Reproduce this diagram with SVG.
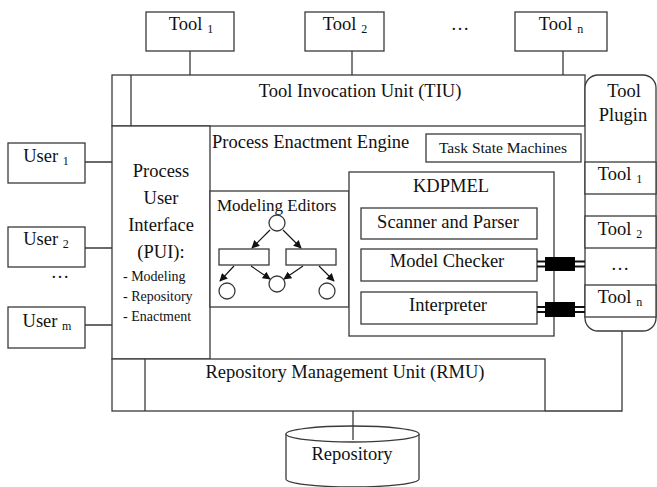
<svg xmlns="http://www.w3.org/2000/svg" width="657" height="487" viewBox="0 0 657 487">
<style>
.box{fill:#fff;stroke:#3a3a3a;stroke-width:1.3}
.ln{fill:none;stroke:#3a3a3a;stroke-width:1.3}
.arr{fill:none;stroke:#111;stroke-width:1.1}
text{font-family:"Liberation Serif","Times New Roman",serif;fill:#111;font-size:18.5px}
.c{text-anchor:middle}
.sub{font-size:12px}
.s14{font-size:14px}
.s15{font-size:15.5px}
.s17{font-size:17px}
</style>
<defs>
<marker id="ah" viewBox="0 0 10 10" refX="9" refY="5" markerWidth="8" markerHeight="8" markerUnits="userSpaceOnUse" orient="auto">
<path d="M0,0 L10,5 L0,10 Z" fill="#111"/>
</marker>
</defs>
<rect width="657" height="487" fill="#fff"/>

<g id="connectors">
<path class="ln" d="M190,51 V75 M352,51 V75 M563,51 V75"/>
<path class="ln" d="M85,162 H112 M85,248 H112 M85,325 H112"/>
<path class="ln" d="M353,411 V440"/>
<path class="ln" d="M622,331 V411 H545"/>
</g>

<g id="tool1"><rect class="box" x="146" y="12" width="88" height="39"/><text class="c" x="191" y="30">Tool <tspan class="sub" dy="3">1</tspan></text></g>
<g id="tool2"><rect class="box" x="305" y="12" width="79" height="39"/><text class="c" x="345" y="30">Tool <tspan class="sub" dy="3">2</tspan></text></g>
<g id="tooldots"><text class="c" x="460" y="30">…</text></g>
<g id="tooln"><rect class="box" x="515" y="12" width="92" height="39"/><text class="c" x="561" y="30">Tool <tspan class="sub" dy="3">n</tspan></text></g>

<g id="user1"><rect class="box" x="8" y="143" width="77" height="40"/><text class="c" x="46" y="162">User <tspan class="sub" dy="3">1</tspan></text></g>
<g id="user2"><rect class="box" x="8" y="227" width="77" height="40"/><text class="c" x="46" y="245">User <tspan class="sub" dy="3">2</tspan></text></g>
<g id="userdots"><text class="c" x="60" y="278">…</text></g>
<g id="userm"><rect class="box" x="8" y="307" width="77" height="41"/><text class="c" x="47" y="327">User <tspan class="sub" dy="3">m</tspan></text></g>

<g id="tiu">
<rect class="box" x="112" y="75" width="473" height="51"/>
<path class="ln" d="M131,75 V126"/>
<text class="c" x="360" y="97">Tool Invocation Unit (TIU)</text>
</g>

<g id="pui">
<rect class="box" x="112" y="126" width="98" height="233"/>
<text class="c" x="161" y="177">Process</text>
<text class="c" x="161" y="204">User</text>
<text class="c" x="161" y="231">Interface</text>
<text class="c" x="161" y="258">(PUI):</text>
<text class="s14" x="123" y="281">- Modeling</text>
<text class="s14" x="123" y="301">- Repository</text>
<text class="s14" x="123" y="321">- Enactment</text>
</g>

<g id="pee">
<text x="212" y="148">Process Enactment Engine</text>
</g>

<g id="tsm"><rect class="box" x="426" y="134" width="155" height="28"/><text class="c s15" x="503" y="153">Task State Machines</text></g>

<g id="modeling">
<rect class="box" x="210" y="191" width="139" height="116"/>
<text class="s17" x="217" y="211">Modeling Editors</text>
<circle class="box" cx="277" cy="223" r="8"/>
<rect class="box" x="219" y="249" width="50" height="16"/>
<rect class="box" x="286" y="249" width="50" height="16"/>
<circle class="box" cx="227" cy="291" r="8"/>
<circle class="box" cx="277" cy="284" r="8"/>
<circle class="box" cx="327" cy="291" r="8"/>
<path class="arr" marker-end="url(#ah)" d="M270,230 L252,248"/>
<path class="arr" marker-end="url(#ah)" d="M283,230 L301,248"/>
<path class="arr" marker-end="url(#ah)" d="M234,266 L220,281"/>
<path class="arr" marker-end="url(#ah)" d="M251,266 L270,279"/>
<path class="arr" marker-end="url(#ah)" d="M303,266 L284,279"/>
<path class="arr" marker-end="url(#ah)" d="M319,266 L334,281"/>
</g>

<g id="kdpmel">
<rect class="box" x="349" y="172" width="205" height="164"/>
<text class="c" x="451" y="192">KDPMEL</text>
</g>
<g id="scanner"><rect class="box" x="361" y="208" width="176" height="31"/><text class="c" x="448" y="228">Scanner and Parser</text></g>
<g id="checker"><rect class="box" x="361" y="249" width="176" height="32"/><text class="c" x="447" y="267">Model Checker</text></g>
<g id="interp"><rect class="box" x="361" y="292" width="176" height="32"/><text class="c" x="448" y="311">Interpreter</text></g>

<g id="plugin">
<rect class="box" x="585" y="75" width="71" height="256" rx="13"/>
<text class="c" x="624" y="97">Tool</text>
<text class="c" x="623" y="121">Plugin</text>
</g>
<g id="ptool1"><rect class="box" x="585" y="162" width="71" height="32"/><text class="c" x="620" y="180">Tool <tspan class="sub" dy="3">1</tspan></text></g>
<g id="ptool2"><rect class="box" x="585" y="216" width="71" height="32"/><text class="c" x="620" y="235">Tool <tspan class="sub" dy="3">2</tspan></text></g>
<g id="pdots"><text class="c" x="620" y="270">…</text></g>
<g id="ptooln"><rect class="box" x="585" y="285" width="71" height="32"/><text class="c" x="620" y="303">Tool <tspan class="sub" dy="3">n</tspan></text></g>

<g id="links">
<path d="M537,261.5 H585 M537,266.5 H585" stroke="#111" stroke-width="1.8" fill="none"/>
<rect x="545" y="257" width="30" height="14" fill="#000"/>
<path d="M537,307 H585 M537,312 H585" stroke="#111" stroke-width="1.8" fill="none"/>
<rect x="545" y="302" width="30" height="15" fill="#000"/>
</g>

<g id="rmu">
<rect class="box" x="112" y="359" width="433" height="52"/>
<path class="ln" d="M145,359 V411"/>
<text class="c" x="345" y="378">Repository Management Unit (RMU)</text>
</g>

<g id="repository">
<path class="box" d="M286,434 V479 A66.5,8 0 0 0 419,479 V434"/>
<ellipse class="box" cx="352.5" cy="434" rx="66.5" ry="8"/>
<path class="ln" d="M353,426 V440"/>
<text class="c" x="352" y="460">Repository</text>
</g>
</svg>
